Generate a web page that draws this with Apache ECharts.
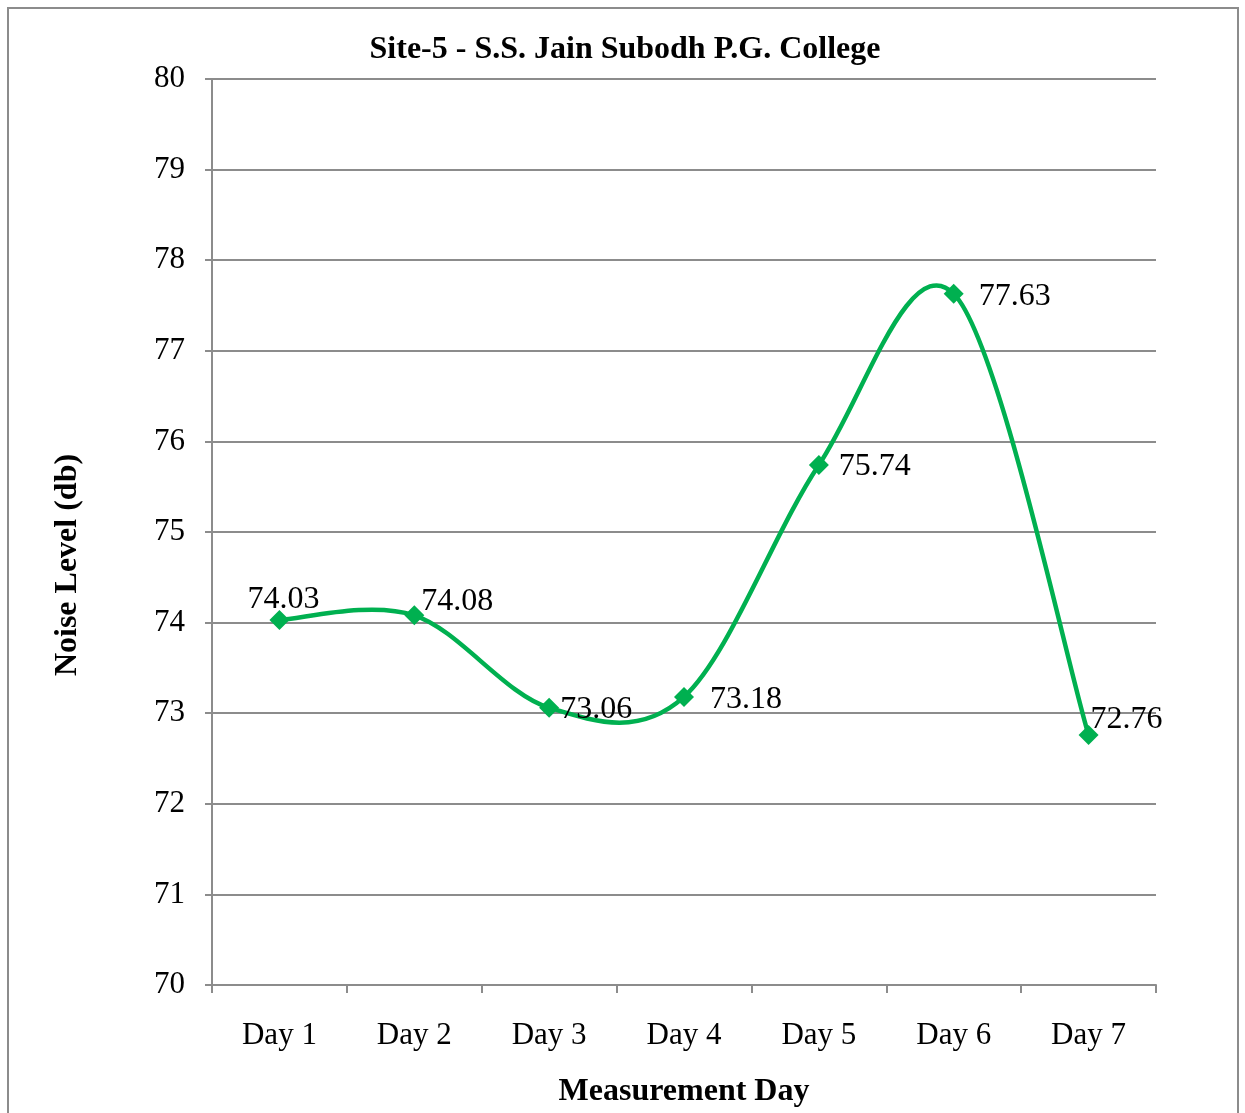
<!DOCTYPE html>
<html>
<head>
<meta charset="utf-8">
<script src="https://cdn.jsdelivr.net/npm/echarts@6/dist/echarts.min.js"></script>
<style>
  html, body { margin: 0; padding: 0; background: #fff; }
  #frame { position: absolute; left: 7px; top: 7px; width: 1232px; height: 1120px; border: 2px solid #8c8c8c; box-sizing: border-box; }
  #chart { width: 1245px; height: 1113px; position: absolute; left: 0; top: 0; }
</style>
</head>
<body>
<div id="frame"></div>
<div id="chart"></div>
<script>
const days = ['Day 1', 'Day 2', 'Day 3', 'Day 4', 'Day 5', 'Day 6', 'Day 7'];
const noiseLevels = [74.03, 74.08, 73.06, 73.18, 75.74, 77.63, 72.76];

const serif = '"Liberation Serif", "Times New Roman", serif';
const green = '#00b050';

// per-point label placement
const labelOffsets = [
  { position: 'top', offset: [4, 11] },
  { position: 'right', offset: [-8, -14] },
  { position: 'right', offset: [-4, 2] },
  { position: 'right', offset: [11, 3] },
  { position: 'right', offset: [5, 2] },
  { position: 'right', offset: [10, 3] },
  { position: 'right', offset: [-13, -15] }
];

const seriesData = noiseLevels.map((v, i) => ({
  value: v,
  label: labelOffsets[i]
}));

// Smoothed curve: cubic Bezier segments with Catmull-Rom style tangents
function renderSegment(params, api) {
  const i = params.dataIndex;
  const n = noiseLevels.length;
  if (i >= n - 1) return null;
  const pt = k => api.coord([Math.max(0, Math.min(n - 1, k)), noiseLevels[Math.max(0, Math.min(n - 1, k))]]);
  const p0 = pt(i - 1), p1 = pt(i), p2 = pt(i + 1), p3 = pt(i + 2);
  const c1 = [p1[0] + (p2[0] - p0[0]) / 6, p1[1] + (p2[1] - p0[1]) / 6];
  const c2 = [p2[0] - (p3[0] - p1[0]) / 6, p2[1] - (p3[1] - p1[1]) / 6];
  return {
    type: 'bezierCurve',
    shape: { x1: p1[0], y1: p1[1], x2: p2[0], y2: p2[1], cpx1: c1[0], cpy1: c1[1], cpx2: c2[0], cpy2: c2[1] },
    style: { stroke: green, lineWidth: 4.5, fill: null, lineCap: 'round' }
  };
}

const chart = echarts.init(document.getElementById('chart'), null, { renderer: 'canvas' });
chart.setOption({
  animation: false,
  backgroundColor: 'transparent',
  title: {
    text: 'Site-5 - S.S. Jain Subodh P.G. College',
    left: 620,
    textAlign: 'center',
    top: 29,
    textStyle: { fontFamily: serif, fontSize: 32, fontWeight: 'bold', color: '#000' }
  },
  grid: { left: 212, right: 89, top: 79, bottom: 128, containLabel: false },
  xAxis: {
    type: 'category',
    data: days,
    boundaryGap: true,
    name: 'Measurement Day',
    nameLocation: 'middle',
    nameGap: 91,
    nameTextStyle: { fontFamily: serif, fontSize: 32, fontWeight: 'bold', color: '#000' },
    axisLine: { lineStyle: { color: '#8c8c8c', width: 2 } },
    axisTick: { show: true, length: 8, lineStyle: { color: '#8c8c8c', width: 2 } },
    axisLabel: { fontFamily: serif, fontSize: 31, color: '#000', margin: 35 },
    splitLine: { show: false }
  },
  yAxis: {
    type: 'value',
    min: 70,
    max: 80,
    interval: 1,
    axisLine: { show: true, lineStyle: { color: '#8c8c8c', width: 2 } },
    axisTick: { show: true, length: 7, lineStyle: { color: '#8c8c8c', width: 2 } },
    axisLabel: { fontFamily: serif, fontSize: 31, color: '#000', margin: 27 },
    splitLine: { show: true, lineStyle: { color: '#8c8c8c', width: 2 } }
  },
  graphic: [{
    type: 'text',
    x: 68,
    y: 565,
    rotation: Math.PI / 2,
    style: {
      text: 'Noise Level (db)',
      fontFamily: serif,
      fontSize: 32,
      fontWeight: 'bold',
      fill: '#000',
      align: 'center',
      verticalAlign: 'middle'
    }
  }],
  series: [{
    type: 'custom',
    renderItem: renderSegment,
    data: noiseLevels.map((v, i) => [i, v]),
    encode: { x: 0, y: 1 },
    z: 2
  }, {
    type: 'line',
    data: seriesData,
    symbol: 'diamond',
    symbolSize: 20,
    lineStyle: { width: 0, opacity: 0 },
    itemStyle: { color: green },
    z: 3,
    label: {
      show: true,
      fontFamily: serif,
      fontSize: 32,
      color: '#000'
    }
  }]
});
</script>
</body>
</html>
